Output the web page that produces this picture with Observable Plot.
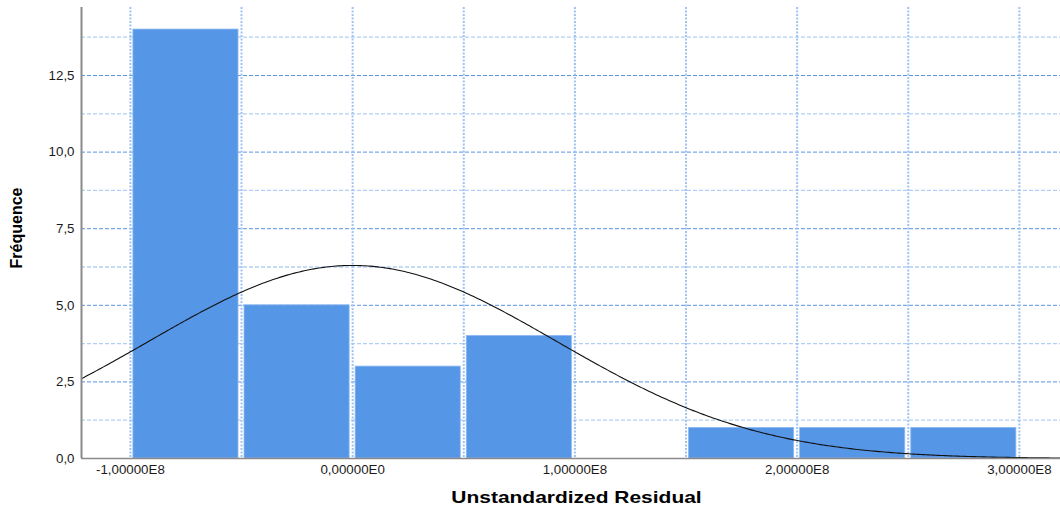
<!DOCTYPE html>
<html>
<head>
<meta charset="utf-8">
<script src="https://cdn.jsdelivr.net/npm/d3@7"></script>
<script src="https://cdn.jsdelivr.net/npm/@observablehq/plot@0.6"></script>
<style>
  html, body { margin: 0; padding: 0; background: #fff; }
  #chart svg { display: block; }
</style>
</head>
<body>
<div id="chart"></div>
<script>
// Histogram bins of the unstandardized residuals (bin width 0.5E8)
const binStarts = [-1.0e8, -0.5e8, 0.0, 0.5e8, 1.0e8, 1.5e8, 2.0e8, 2.5e8];
const binWidth = 0.5e8;
const counts = [14, 5, 3, 4, 0, 1, 1, 1];

// Normal curve overlay parameters
const curveMean = 0;
const curveStd = 0.918e8;
const nObs = 29;

// Axis ticks
const yMajorTicks = [0, 2.5, 5, 7.5, 10, 12.5];
const yMinorTicks = [1.25, 3.75, 6.25, 8.75, 11.25, 13.75];
const xLabelTicks = [-1e8, 0, 1e8, 2e8, 3e8];
const xGridTicks = [-1e8, -0.5e8, 0, 0.5e8, 1e8, 1.5e8, 2e8, 2.5e8, 3e8];

const xDomain = [-1.22e8, 3.185e8];
const yDomain = [0, 14.72];

const bins = binStarts.map((x0, i) => ({x1: x0, x2: x0 + binWidth, count: counts[i]}));

const curve = d3.range(0, 401).map(i => {
  const x = xDomain[0] + (xDomain[1] - xDomain[0]) * i / 400;
  const z = (x - curveMean) / curveStd;
  return {x, y: nObs * binWidth * Math.exp(-0.5 * z * z) / (curveStd * Math.sqrt(2 * Math.PI))};
});

const fmtY = v => v.toFixed(1).replace(".", ",");
const fmtX = v => {
  if (v === 0) return "0,00000E0";
  const e = Math.floor(Math.log10(Math.abs(v)));
  return (v / Math.pow(10, e)).toFixed(5).replace(".", ",") + "E" + e;
};

const chart = Plot.plot({
  width: 1060,
  height: 516,
  marginLeft: 81,
  marginRight: 0,
  marginTop: 7,
  marginBottom: 58,
  style: {fontFamily: "'Liberation Sans', Arial, sans-serif", fontSize: "13.3px", color: "#1a1a1a", background: "#fff"},
  x: {domain: xDomain},
  y: {domain: yDomain},
  marks: [
    Plot.gridY(yMinorTicks, {stroke: "#b4cff4", strokeOpacity: 1, strokeWidth: 1.3, strokeDasharray: "4,2"}),
    Plot.gridY(yMajorTicks, {stroke: "#5a93e2", strokeOpacity: 1, strokeWidth: 1, strokeDasharray: "4,2"}),
    Plot.gridX(xGridTicks, {stroke: "#9fc3f2", strokeOpacity: 1, strokeWidth: 2, strokeDasharray: "2,1.5"}),
    Plot.rectY(bins, {x1: "x1", x2: "x2", y: "count", fill: "#5596e6", stroke: "#8fbaf0", strokeWidth: 0.8,
      insetLeft: 3, insetRight: 3, filter: d => d.count > 0}),
    Plot.line(curve, {x: "x", y: "y", stroke: "#111", strokeWidth: 1.1}),
    Plot.ruleX([xDomain[0]], {stroke: "#8a8a8a", strokeWidth: 2}),
    Plot.ruleY([0], {stroke: "#8a8a8a", strokeWidth: 1.5}),
    Plot.axisY(yMajorTicks, {
      tickSize: 0, tickPadding: 7, tickFormat: fmtY,
      label: "Fréquence", labelAnchor: "center", labelArrow: false, labelOffset: 71
    }),
    Plot.axisX(xLabelTicks, {
      tickSize: 0, tickPadding: 6, tickFormat: fmtX,
      label: "Unstandardized Residual", labelAnchor: "center", labelArrow: false, labelOffset: 44
    })
  ]
});

document.getElementById("chart").appendChild(chart);

// Bold axis titles; the horizontal title is drawn wide
const yTitle = d3.select(chart).select("[aria-label='y-axis label']");
yTitle.style("font-weight", "bold").style("font-size", "16px").style("fill", "#000");
yTitle.selectAll("text").style("fill", "#000").attr("dx", 5);
const xTitle = d3.select(chart).select("[aria-label='x-axis label']");
xTitle.style("font-weight", "bold").style("font-size", "16.5px").style("fill", "#000");
xTitle.selectAll("text").style("fill", "#000").attr("dx", 5.5).each(function() {
  const w = this.getComputedTextLength();
  this.setAttribute("textLength", w * 1.27);
  this.setAttribute("lengthAdjust", "spacingAndGlyphs");
});
</script>
</body>
</html>
